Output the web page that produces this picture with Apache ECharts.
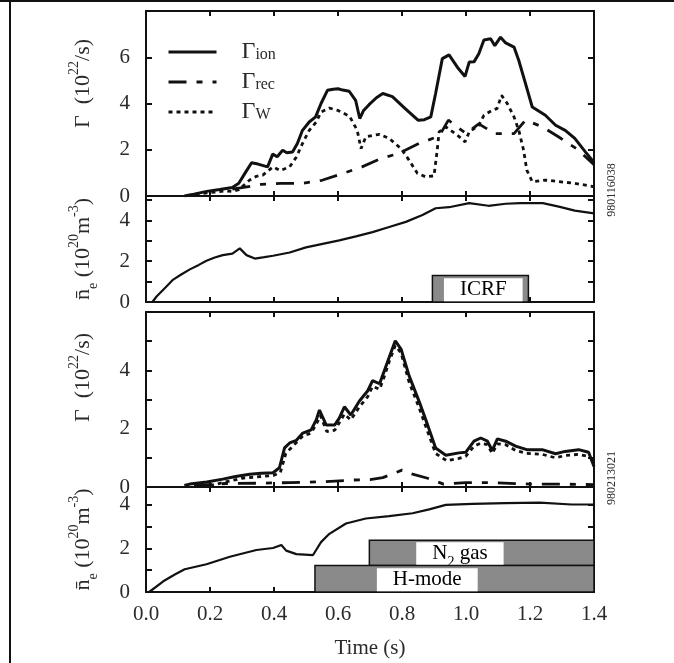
<!DOCTYPE html>
<html>
<head>
<meta charset="utf-8">
<script src="https://cdn.jsdelivr.net/npm/echarts@6/dist/echarts.min.js"></script>
<style>
  html, body { margin: 0; padding: 0; background: #fff; }
  #chart { width: 674px; height: 663px; }
</style>
</head>
<body>
<div id="chart"></div>
<script>
// ---- data (time in s) ----
// shot 980116038
const ionA = [[0.12,0],[0.15,0.08],[0.19,0.2],[0.23,0.28],[0.27,0.37],[0.29,0.55],[0.31,1.0],[0.33,1.44],[0.35,1.38],[0.38,1.26],[0.396,1.81],[0.41,1.7],[0.427,1.98],[0.44,1.87],[0.458,1.9],[0.473,2.27],[0.489,2.84],[0.51,3.2],[0.53,3.42],[0.547,4.0],[0.567,4.57],[0.585,4.62],[0.6,4.64],[0.615,4.58],[0.635,4.53],[0.655,4.14],[0.668,3.35],[0.68,3.7],[0.697,3.95],[0.72,4.25],[0.74,4.43],[0.77,4.3],[0.81,3.78],[0.85,3.28],[0.87,3.3],[0.89,3.42],[0.905,4.43],[0.926,5.94],[0.947,6.1],[0.973,5.57],[0.997,5.17],[1.01,5.79],[1.025,5.8],[1.04,6.15],[1.056,6.75],[1.077,6.8],[1.09,6.5],[1.108,6.87],[1.124,6.62],[1.15,6.44],[1.165,5.86],[1.186,4.86],[1.207,3.85],[1.248,3.49],[1.28,3.06],[1.31,2.84],[1.34,2.49],[1.373,1.91],[1.4,1.45]];
const recA = [[0.27,0.3],[0.31,0.38],[0.36,0.5],[0.42,0.55],[0.49,0.55],[0.55,0.68],[0.61,0.95],[0.675,1.26],[0.734,1.62],[0.79,1.84],[0.853,2.27],[0.916,2.59],[0.945,3.28],[1.0,2.7],[1.04,3.12],[1.09,2.7],[1.15,2.7],[1.186,3.28],[1.24,2.98],[1.29,2.55],[1.35,2.0],[1.4,1.35]];
const wallA = [[0.13,0.02],[0.2,0.15],[0.25,0.22],[0.27,0.2],[0.29,0.27],[0.324,0.69],[0.345,0.85],[0.365,0.9],[0.397,1.26],[0.42,1.1],[0.449,1.26],[0.47,1.69],[0.489,2.27],[0.51,2.84],[0.532,3.2],[0.547,3.63],[0.573,3.8],[0.6,3.7],[0.636,3.45],[0.66,2.84],[0.672,2.05],[0.687,2.56],[0.73,2.67],[0.76,2.49],[0.797,2.05],[0.822,1.55],[0.848,0.98],[0.874,0.83],[0.9,0.87],[0.91,1.98],[0.916,2.77],[0.937,2.99],[0.973,2.63],[0.997,2.34],[1.01,2.77],[1.04,3.06],[1.056,3.49],[1.082,3.71],[1.097,3.78],[1.111,4.35],[1.129,4.0],[1.15,3.42],[1.165,2.84],[1.18,1.98],[1.19,1.12],[1.207,0.62],[1.248,0.69],[1.29,0.62],[1.34,0.55],[1.4,0.4]];
const neA = [[0.02,0],[0.033,0.27],[0.06,0.7],[0.085,1.1],[0.11,1.35],[0.137,1.6],[0.165,1.82],[0.189,2.02],[0.215,2.18],[0.24,2.3],[0.27,2.37],[0.293,2.63],[0.314,2.3],[0.34,2.13],[0.37,2.2],[0.397,2.27],[0.449,2.43],[0.5,2.68],[0.552,2.85],[0.604,3.02],[0.656,3.22],[0.708,3.43],[0.76,3.68],[0.812,3.93],[0.864,4.27],[0.905,4.6],[0.947,4.65],[1.01,4.85],[1.07,4.72],[1.124,4.82],[1.17,4.85],[1.24,4.85],[1.29,4.68],[1.34,4.48],[1.4,4.35]];

// shot 980213021
const ionB = [[0.12,0.05],[0.137,0.1],[0.19,0.17],[0.24,0.27],[0.28,0.36],[0.324,0.44],[0.36,0.47],[0.397,0.49],[0.417,0.66],[0.433,1.34],[0.449,1.51],[0.47,1.6],[0.49,1.85],[0.516,1.96],[0.532,2.3],[0.542,2.64],[0.563,2.13],[0.59,2.13],[0.604,2.36],[0.62,2.75],[0.64,2.47],[0.667,2.95],[0.693,3.3],[0.708,3.65],[0.73,3.54],[0.745,3.99],[0.76,4.45],[0.779,5.01],[0.797,4.73],[0.822,3.82],[0.854,2.92],[0.88,2.13],[0.905,1.34],[0.937,1.09],[0.978,1.17],[0.999,1.19],[1.025,1.57],[1.046,1.68],[1.067,1.57],[1.082,1.25],[1.098,1.65],[1.124,1.57],[1.155,1.4],[1.19,1.28],[1.238,1.28],[1.28,1.14],[1.31,1.22],[1.352,1.28],[1.383,1.19],[1.4,0.7]];
const recB = [[0.15,0.05],[0.25,0.12],[0.35,0.13],[0.45,0.15],[0.55,0.18],[0.65,0.24],[0.7,0.25],[0.74,0.32],[0.8,0.58],[0.83,0.45],[0.88,0.3],[0.93,0.1],[1.0,0.15],[1.07,0.15],[1.2,0.1],[1.3,0.1],[1.4,0.08]];
const wallB = [[0.2,0.05],[0.3,0.3],[0.4,0.4],[0.42,0.5],[0.437,1.15],[0.45,1.3],[0.49,1.75],[0.516,1.85],[0.532,2.15],[0.545,2.45],[0.565,1.9],[0.59,1.95],[0.604,2.2],[0.62,2.5],[0.64,2.3],[0.667,2.75],[0.693,3.1],[0.708,3.45],[0.73,3.35],[0.745,3.8],[0.76,4.3],[0.779,4.85],[0.797,4.6],[0.822,3.6],[0.854,2.7],[0.88,1.9],[0.905,1.15],[0.94,0.9],[0.978,0.98],[0.999,1.05],[1.025,1.4],[1.046,1.5],[1.067,1.45],[1.082,1.15],[1.098,1.48],[1.124,1.45],[1.155,1.25],[1.19,1.15],[1.238,1.12],[1.28,1.0],[1.31,1.08],[1.352,1.12],[1.383,1.05],[1.4,0.9]];
const neB = [[0.01,0],[0.054,0.49],[0.09,0.8],[0.121,1.04],[0.189,1.27],[0.262,1.61],[0.345,1.92],[0.397,2.01],[0.423,2.15],[0.438,1.89],[0.47,1.73],[0.522,1.69],[0.547,2.28],[0.573,2.66],[0.625,3.13],[0.687,3.36],[0.76,3.47],[0.833,3.6],[0.885,3.78],[0.937,3.98],[1.02,4.03],[1.124,4.06],[1.23,4.09],[1.33,4.0],[1.4,4.0]];

// phase bars: [tStart, tEnd, low, high, labelTime]
const icrfBars = [[0.895, 1.195, 0, 1.3, 1.054]];
const icrfLabels = ['{t|ICRF}'];
const phaseBars = [[0.698, 1.4, 1.21, 2.37, 0.981], [0.528, 1.4, 0, 1.21, 0.879]];
const phaseLabels = ['{t|N}{s|2}{t| gas}', '{t|H-mode}'];

const panelMax = [8, 5.2, 6, 4.8];
const shotIds = ['980116038', '980213021'];

const FONT = 'Liberation Serif';
const INK = '#111';
const TXT = '#2a2a2a';
const GRAY = '#8a8a8a';

const grids = [
  { left: 146, right: 80, top: 11, height: 185 },
  { left: 146, right: 80, top: 196, height: 106 },
  { left: 146, right: 80, top: 312, height: 175 },
  { left: 146, right: 80, top: 487, height: 105 }
];

const gammaName = '{g|Γ}{t|  (10}{s|22}{t|/s)}';
const neName = '{g|n̄}{e|e}{t| (10}{s|20}{t|m}{s|-3}{t|)}';
const nameRich = {
  g: { fontFamily: FONT, fontSize: 22, color: TXT, lineHeight: 22, verticalAlign: 'bottom' },
  t: { fontFamily: FONT, fontSize: 22, color: TXT, lineHeight: 22, verticalAlign: 'bottom' },
  e: { fontFamily: FONT, fontSize: 14, color: TXT, lineHeight: 22, verticalAlign: 'bottom', padding: [0, 0, -6, 0] },
  s: { fontFamily: FONT, fontSize: 14, color: TXT, lineHeight: 27, verticalAlign: 'top' }
};
const panelNames = [gammaName, neName, gammaName, neName];
const nameShift = [40, 0, 44, 0];
const minorOn = [false, true, true, true];

const xAxes = [];
const yAxes = [];
grids.forEach((g, i) => {
  const last = i === grids.length - 1;
  const base = {
    type: 'value', gridIndex: i, min: 0, max: 1.4, interval: 0.2,
    axisLine: { show: true, onZero: false, lineStyle: { color: INK, width: 2 } },
    axisTick: { show: true, inside: true, length: 5, lineStyle: { color: INK, width: 2 } },
    splitLine: { show: false }
  };
  xAxes.push(Object.assign({}, base, {
    position: 'bottom',
    axisLabel: {
      show: last, margin: 12, color: TXT, fontFamily: FONT, fontSize: 21,
      formatter: v => v.toFixed(1)
    },
    name: last ? 'Time (s)' : '', nameLocation: 'middle', nameGap: 46,
    nameTextStyle: { fontFamily: FONT, fontSize: 21, color: TXT }
  }));
  xAxes.push(Object.assign({}, base, { position: 'top', axisLabel: { show: false } }));

  const max = panelMax[i];
  const ybase = {
    type: 'value', gridIndex: i, min: 0, max: max, interval: 2,
    axisLine: { show: true, onZero: false, lineStyle: { color: INK, width: 2 } },
    axisTick: { show: true, inside: true, length: 6, lineStyle: { color: INK, width: 2 } },
    minorTick: { show: minorOn[i], splitNumber: 2, length: 6, lineStyle: { color: INK, width: 2 } },
    splitLine: { show: false }
  };
  yAxes.push(Object.assign({}, ybase, {
    position: 'left',
    axisLabel: {
      margin: 16, color: TXT, fontFamily: FONT, fontSize: 21,
      formatter: v => (v % 2 === 0 && v < max) ? String(v) : ''
    },
    name: panelNames[i], nameLocation: 'middle', nameGap: 52, nameRotate: 90,
    nameTextStyle: { rich: nameRich, padding: [0, 0, 0, nameShift[i]] }
  }));
  yAxes.push(Object.assign({}, ybase, { position: 'right', axisLabel: { show: false } }));
});

function lineSeries(name, data, panel, kind) {
  const styles = {
    ion: { type: 'solid', width: 3 },
    rec: { type: [18, 10, 6, 10], width: 2.8 },
    wall: { type: [4, 4], width: 2.8 },
    ne: { type: 'solid', width: 2.2 }
  };
  return {
    name: name, type: 'line', data: data,
    xAxisIndex: panel * 2, yAxisIndex: panel * 2,
    symbol: 'none', smooth: false, silent: true,
    itemStyle: { color: INK },
    lineStyle: Object.assign({ color: INK, cap: 'butt' }, styles[kind])
  };
}

function barRenderer(labels) {
  return function (params, api) {
    const p0 = api.coord([api.value(0), api.value(3)]);
    const p1 = api.coord([api.value(1), api.value(2)]);
    const pl = api.coord([api.value(4), (api.value(2) + api.value(3)) / 2]);
    return {
      type: 'group',
      children: [
        {
          type: 'rect',
          shape: { x: p0[0], y: p0[1], width: p1[0] - p0[0], height: p1[1] - p0[1] },
          style: { fill: GRAY, stroke: INK, lineWidth: 1.5 }
        },
        {
          type: 'text', x: pl[0], y: pl[1] + 1,
          style: {
            text: labels[params.dataIndex],
            align: 'center', verticalAlign: 'middle',
            backgroundColor: '#fff', padding: [1, 16, 1, 16],
            rich: {
              t: { fontFamily: FONT, fontSize: 21, color: TXT, lineHeight: 21, verticalAlign: 'bottom' },
              s: { fontFamily: FONT, fontSize: 14, color: TXT, lineHeight: 21, verticalAlign: 'bottom', padding: [0, 0, -5, 0] }
            }
          }
        }
      ]
    };
  };
}

const series = [
  lineSeries('Γion', ionA, 0, 'ion'),
  lineSeries('Γrec', recA, 0, 'rec'),
  lineSeries('ΓW', wallA, 0, 'wall'),
  lineSeries('ne A', neA, 1, 'ne'),
  lineSeries('Γion B', ionB, 2, 'ion'),
  lineSeries('Γrec B', recB, 2, 'rec'),
  lineSeries('ΓW B', wallB, 2, 'wall'),
  lineSeries('ne B', neB, 3, 'ne'),
  {
    type: 'custom', xAxisIndex: 2, yAxisIndex: 2, data: icrfBars,
    renderItem: barRenderer(icrfLabels), silent: true, z: 1
  },
  {
    type: 'custom', xAxisIndex: 6, yAxisIndex: 6, data: phaseBars,
    renderItem: barRenderer(phaseLabels), silent: true, z: 1
  }
];

const chart = echarts.init(document.getElementById('chart'), null, { renderer: 'canvas' });
chart.setOption({
  animation: false,
  backgroundColor: '#fff',
  grid: grids,
  xAxis: xAxes,
  yAxis: yAxes,
  legend: {
    data: ['Γion', 'Γrec', 'ΓW'],
    orient: 'vertical', left: 167, top: 39, padding: 0,
    itemWidth: 48, itemHeight: 14, itemGap: 5,
    selectedMode: false,
    itemStyle: { opacity: 0 },
    lineStyle: { width: 3 },
    formatter: name => '{g|Γ}{s|' + name.slice(1) + '}',
    textStyle: {
      rich: {
        g: { fontFamily: FONT, fontSize: 24, color: TXT, lineHeight: 22, verticalAlign: 'middle', padding: [0, 0, 0, 20] },
        s: { fontFamily: FONT, fontSize: 16, color: TXT, lineHeight: 20, verticalAlign: 'bottom', padding: [8, 0, 0, 0] }
      }
    }
  },
  graphic: [
    { type: 'line', shape: { x1: 10, y1: 0, x2: 10, y2: 663 }, style: { stroke: INK, lineWidth: 2 } },
    { type: 'line', shape: { x1: 0, y1: 1, x2: 674, y2: 1 }, style: { stroke: INK, lineWidth: 2 } },
    {
      type: 'text', x: 612, y: 190, rotation: Math.PI / 2,
      style: { text: shotIds[0], fontFamily: FONT, fontSize: 12, fill: TXT, align: 'center', verticalAlign: 'middle' }
    },
    {
      type: 'text', x: 612, y: 478, rotation: Math.PI / 2,
      style: { text: shotIds[1], fontFamily: FONT, fontSize: 12, fill: TXT, align: 'center', verticalAlign: 'middle' }
    }
  ],
  series: series
});
</script>
</body>
</html>
